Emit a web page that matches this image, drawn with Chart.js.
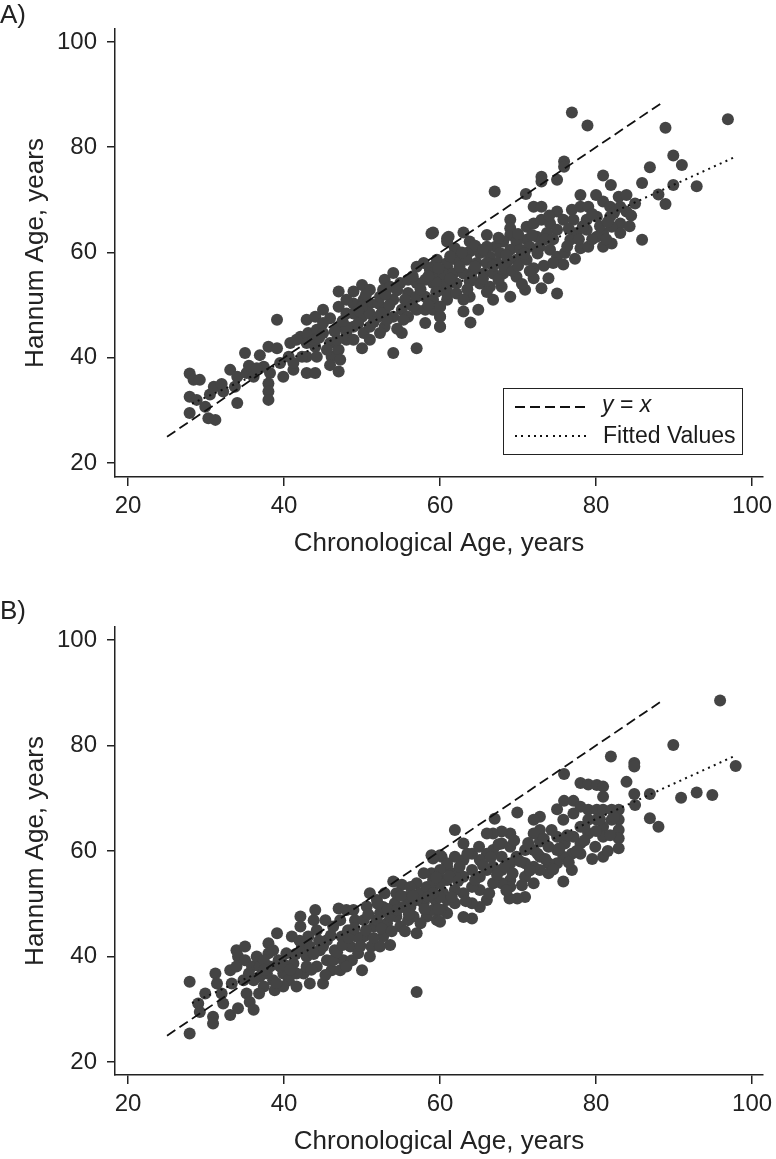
<!DOCTYPE html>
<html>
<head>
<meta charset="utf-8">
<script src="https://cdn.jsdelivr.net/npm/chart.js@4.4.1/dist/chart.umd.min.js"></script>
<style>
    html, body { margin: 0; padding: 0; background: #fff; }
    body { width: 776px; height: 1159px; position: relative; overflow: hidden;
           font-family: 'Liberation Sans', Arial, sans-serif; }
    canvas { position: absolute; left: 0; }
    #chartA { top: 0; }
    #chartB { top: 580px; }
    .legend { position: absolute; left: 503px; top: 388px; width: 240px; height: 67px;
              border: 1.5px solid #222; box-sizing: border-box; color: #1a1a1a; font-size: 23px; }
    .legend .txt { position: absolute; line-height: 23px; white-space: nowrap; }
    .legend .sample { position: absolute; left: 10.5px; width: 75px; height: 2px; }
    .dash { background: repeating-linear-gradient(to right, #111 0 10px, transparent 10px 15px); }
    .dot { background: repeating-linear-gradient(to right, #111 0 2px, transparent 2px 6.3px); }
</style>
</head>
<body>
<canvas id="chartA" width="776" height="580"></canvas>
<canvas id="chartB" width="776" height="579"></canvas>
<div class="legend">
    <div class="sample dash" style="top:16.5px"></div>
    <div class="txt" style="left:98px; top:4px"><i>y</i> = <i>x</i></div>
    <div class="sample dot" style="top:46px"></div>
    <div class="txt" style="left:99px; top:35px">Fitted Values</div>
</div>
<script>
// ---- data ----
const TICKS = [20, 40, 60, 80, 100];

// Panel A: chronological age / Hannum age
const ageA = [
    27.9, 28.4, 29.2, 27.9, 28.8, 27.9, 29.9, 30.3, 31.2, 31.0,
    32.2, 33.1, 34.0, 33.7, 34.0, 35.0, 35.2, 36.1, 36.9, 38.0,
    39.1, 37.4, 38.2, 38.0, 38.0, 38.0, 39.1, 39.5, 39.9, 40.8,
    41.2, 42.1, 42.9, 43.1, 42.9, 42.9, 42.9, 44.0, 44.2, 44.0,
    44.2, 44.0, 45.0, 45.0, 45.9, 45.9, 46.1, 45.9, 47.0, 47.0,
    47.0, 47.0, 47.0, 48.0, 48.0, 48.0, 48.9, 48.9, 48.9, 48.9,
    50.0, 50.2, 50.0, 50.2, 50.0, 51.0, 51.0, 51.0, 51.0, 51.0,
    52.1, 52.1, 52.3, 52.9, 52.9, 52.9, 54.0, 54.0, 54.0, 54.0,
    54.9, 55.1, 55.1, 55.9, 55.9, 55.9, 55.9, 57.0, 57.0, 57.0,
    57.0, 57.0, 57.9, 58.1, 58.1, 58.1, 58.1, 58.9, 59.1, 59.1,
    59.1, 60.0, 60.0, 60.0, 60.9, 60.9, 60.9,
    32.0, 35.5, 36.5, 30.5, 41.6, 42.3, 40.6, 41.2, 48.0, 48.9,
    50.0, 48.0, 46.8, 45.0, 43.8, 45.5, 47.2, 52.7, 53.6, 52.3,
    53.2, 55.3, 58.7, 60.0, 60.0, 60.9, 59.1,
    76.9, 78.9, 88.9, 96.9, 89.9, 91.0, 86.9, 85.9, 80.9, 81.9,
    89.9, 92.9, 88.0, 88.9, 85.9, 75.9, 75.9, 75.0, 73.0, 73.0,
    67.0, 71.0, 72.0, 73.0, 78.0, 80.0, 80.9, 82.9, 83.9, 85.0,
    83.9, 75.0, 76.9, 78.0, 79.0, 81.8, 83.1, 75.8, 77.1, 78.8,
    80.1, 81.8, 83.1, 83.1, 82.0, 80.9, 80.1, 78.8, 77.5, 76.7,
    78.0, 79.0, 80.9, 82.0, 69.0, 69.0, 69.0, 71.1, 72.0, 73.0,
    74.1, 75.0, 73.7, 72.4, 71.1, 69.8, 68.1, 67.1, 66.0, 66.0,
    63.8, 63.0, 61.1, 59.1, 60.9, 61.9, 63.8, 65.1, 66.4, 67.7,
    69.0, 70.3, 71.5, 72.8, 74.1, 75.0, 76.0, 75.8, 59.6, 60.9,
    62.1, 63.4, 64.7, 66.0, 67.3, 68.5, 69.8, 71.1, 72.0, 59.1,
    60.4, 61.7, 63.0, 64.3, 65.6, 66.8, 68.1, 69.8, 72.0, 73.9,
    59.6, 60.9, 62.1, 63.8, 65.1, 66.4, 67.9, 70.9, 73.0, 75.0,
    69.0, 66.8, 60.9, 62.1, 63.8, 63.0, 60.0, 60.0, 60.0, 63.0,
    64.9, 63.9,
    44.5, 46.5, 47.5, 49.5, 49.5, 50.5, 51.5, 52.5, 53.5, 53.0,
    54.5, 54.5, 55.5, 56.5, 56.5, 57.5, 58.5, 58.5, 59.5, 59.8,
    61.3, 61.3, 62.5, 62.8, 63.5, 64.0, 64.5, 64.5, 65.5, 65.5,
    66.0, 66.8, 67.5, 67.5, 68.3, 68.5, 69.3, 70.0, 70.0, 70.5,
    70.8, 71.5, 71.8, 72.5, 73.3, 73.5, 74.5, 74.5, 74.0, 76.3,
    76.5, 77.3, 77.8, 78.3, 79.5, 79.5, 80.5, 81.3, 81.5, 82.3,
    84.5, 84.3,
];
const hannumA = [
    37.0, 35.8, 35.8, 32.6, 32.0, 29.5, 30.7, 28.5, 28.2, 34.5,
    33.6, 37.7, 36.4, 34.5, 31.4, 40.9, 37.1, 36.4, 40.5, 42.1,
    41.8, 38.3, 37.1, 35.1, 33.6, 32.0, 47.2, 39.0, 36.4, 42.8,
    37.7, 44.0, 47.2, 44.7, 42.8, 40.2, 37.1, 47.8, 45.3, 42.1,
    40.2, 37.1, 49.1, 44.7, 47.5, 42.8, 40.2, 38.6, 52.6, 49.7,
    45.9, 41.5, 37.4, 48.4, 44.7, 43.4, 52.6, 50.3, 45.9, 43.4,
    53.8, 51.0, 47.8, 44.7, 41.8, 52.9, 50.3, 48.4, 45.9, 43.4,
    50.3, 47.8, 51.6, 54.8, 49.1, 45.9, 56.1, 51.0, 47.8, 40.9,
    54.2, 49.1, 44.7, 54.8, 52.3, 50.3, 47.8, 57.3, 54.2, 51.6,
    49.1, 41.8, 58.0, 54.8, 51.6, 49.1, 46.6, 63.6, 57.3, 54.2,
    51.0, 49.7, 45.9, 47.8, 62.7, 57.3, 53.5,
    35.0, 38.5, 38.0, 33.0, 43.4, 40.2, 40.2, 39.0, 45.9, 48.4,
    49.7, 51.0, 43.4, 46.6, 43.4, 41.5, 39.6, 52.9, 53.5, 44.7,
    47.2, 47.2, 56.7, 55.4, 52.9, 51.0, 49.1,
    86.6, 84.1, 83.7, 85.3, 78.4, 76.6, 76.2, 73.2, 74.6, 72.8,
    72.8, 72.6, 71.0, 69.2, 62.4, 77.3, 76.3, 73.8, 74.4, 73.5,
    71.6, 71.1, 68.7, 68.7, 70.9, 70.9, 69.7, 70.6, 70.9, 69.3,
    67.8, 67.8, 68.1, 68.7, 68.7, 68.7, 68.7, 66.2, 66.2, 66.2,
    66.8, 66.8, 65.5, 63.7, 64.9, 63.7, 63.0, 64.3, 63.7, 62.4,
    60.8, 61.1, 61.1, 61.7, 66.2, 64.6, 63.3, 64.9, 65.5, 66.2,
    65.5, 64.3, 63.7, 63.0, 62.4, 62.1, 62.1, 61.1, 63.3, 61.1,
    62.1, 63.8, 63.0, 63.8, 62.1, 60.8, 60.2, 59.9, 59.2, 59.9,
    60.5, 60.5, 61.1, 61.1, 60.5, 59.2, 59.9, 57.7, 58.6, 58.0,
    58.6, 58.6, 58.0, 58.0, 58.0, 58.0, 58.6, 58.6, 57.0, 56.0,
    56.0, 56.0, 56.0, 56.7, 56.0, 56.0, 56.0, 55.4, 55.1, 55.1,
    54.1, 54.1, 54.1, 54.5, 54.1, 53.5, 53.5, 52.9, 53.2, 52.2,
    51.6, 51.0, 52.2, 52.2, 51.6, 51.0, 49.7, 47.8, 45.9, 48.8,
    49.1, 46.7,
    43.8, 45.0, 47.0, 46.5, 49.0, 52.0, 46.8, 48.5, 50.0, 52.0,
    45.5, 52.8, 51.0, 49.8, 55.5, 53.0, 50.0, 55.5, 52.5, 57.0,
    55.0, 59.3, 57.3, 60.0, 53.0, 55.3, 57.3, 61.3, 55.0, 60.5,
    52.5, 57.5, 54.8, 62.8, 57.0, 59.5, 56.5, 57.5, 63.5, 54.0,
    59.8, 56.5, 63.3, 59.8, 57.5, 62.5, 58.0, 62.5, 67.0, 61.2,
    64.5, 58.8, 62.5, 65.0, 62.5, 67.3, 65.0, 62.5, 65.8, 67.5,
    67.0, 65.0,
];

// Panel B: chronological age / Hannum age
const ageB = [
    27.9, 27.9, 29.0, 29.2, 29.9, 30.9, 30.9, 31.2, 31.4, 32.0,
    32.2, 33.1, 33.3, 33.1, 33.9, 34.1, 33.9, 34.1, 35.0, 35.0,
    34.8, 35.2, 35.6, 36.1, 35.9, 36.5, 36.9, 37.4, 38.0, 38.0,
    38.2, 38.6, 38.8, 39.1, 39.3, 39.9, 40.3, 40.6, 41.0, 41.2,
    41.6, 42.1, 42.1, 42.3, 42.5, 42.9, 43.1, 43.3, 43.8, 44.0,
    44.2, 44.2, 44.6, 45.0, 45.3, 45.5, 45.5, 46.1, 46.3, 46.5,
    47.0, 47.2, 47.4, 47.6, 48.0, 48.2, 48.5, 48.7, 48.9, 49.1,
    50.0, 50.2, 50.2, 50.6, 51.0, 51.2, 51.5, 51.9, 52.3, 52.7,
    52.9, 53.2, 53.6, 54.0, 54.2, 54.4, 54.9, 55.1, 55.7, 56.2,
    56.6, 57.0, 57.0, 57.0, 57.4, 57.9, 58.3, 58.9, 58.9, 59.1,
    59.4, 59.6, 60.2, 60.2, 60.4, 60.4, 60.9,
    49.3, 49.5, 51.9, 52.3, 53.6, 54.4, 55.3, 55.9, 52.7, 51.0,
    58.3, 57.9, 57.0, 56.2, 45.0, 46.3, 47.2, 48.0, 43.3, 42.9,
    41.6, 36.9, 37.8, 39.5, 39.9, 37.4, 38.6, 36.1,
    95.9, 89.9, 81.9, 84.9, 84.9, 97.9, 83.9, 75.9, 78.0, 79.0,
    80.1, 80.9, 80.9, 84.9, 86.9, 85.0, 90.9, 92.9, 94.9, 86.9,
    88.0, 69.9, 67.0, 61.9, 75.9, 77.1, 75.0, 75.8, 77.1, 78.0,
    79.0, 80.1, 80.9, 82.0, 82.9, 82.9, 82.9, 82.9, 82.9, 82.0,
    80.9, 80.9, 80.9, 80.1, 79.9, 79.0, 79.0, 78.0, 78.0, 78.0,
    77.1, 76.9, 76.9, 76.0, 75.8, 75.8, 75.0, 75.0, 75.0, 73.9,
    73.9, 73.9, 72.8, 72.8, 72.8, 72.8, 72.8, 72.0, 72.0, 72.0,
    72.0, 72.0, 70.9, 70.9, 70.9, 70.9, 69.9, 68.9, 69.8, 69.0,
    69.0, 69.0, 69.0, 69.0, 67.9, 67.9, 67.9, 67.9, 67.9, 66.8,
    66.8, 66.8, 66.8, 66.0, 66.0, 66.0, 66.0, 65.1, 65.1, 65.1,
    65.1, 64.1, 64.1, 64.1, 64.1, 64.1, 63.0, 63.0, 63.0, 63.0,
    63.0, 61.9, 61.9, 61.9, 61.9, 60.9, 60.9, 60.9, 60.9, 60.0,
    60.0, 60.0, 60.0, 60.0, 60.0, 59.1, 59.1, 59.1, 59.1,
    35.5, 36.8, 37.5, 39.0, 40.0, 40.8, 41.5, 42.0, 43.5, 43.8,
    44.5, 45.3, 46.0, 46.8, 47.5, 48.3, 49.0, 49.8, 50.5, 50.8,
    51.5, 52.0, 52.5, 53.3, 53.8, 54.5, 55.0, 55.5, 56.0, 56.5,
    57.5, 58.0, 58.5, 59.5, 59.8, 61.2, 61.5, 62.3, 62.5, 63.3,
    63.5, 64.5, 65.0, 65.5, 66.3, 66.5, 67.3, 67.5, 68.3, 68.5,
    69.3, 69.5, 70.3, 70.5, 71.3, 71.5, 72.5, 73.3, 73.5, 74.3,
    74.5, 75.3, 76.3, 76.5, 77.5, 78.5, 78.5, 79.5, 80.0, 81.5,
    81.8, 82.3, 80.5,
];
const hannumB = [
    35.2, 25.4, 31.1, 29.5, 33.0, 28.6, 27.3, 36.8, 34.9, 33.0,
    31.1, 37.4, 34.9, 28.9, 41.2, 40.0, 38.1, 30.2, 41.9, 39.3,
    35.5, 33.0, 31.4, 29.9, 38.1, 40.0, 36.2, 34.3, 42.5, 40.6,
    38.1, 35.5, 33.6, 44.4, 39.3, 36.8, 40.6, 35.5, 43.8, 38.7,
    34.3, 47.6, 45.7, 41.9, 36.8, 40.0, 43.8, 34.9, 46.9, 48.8,
    45.0, 38.1, 41.2, 34.9, 46.9, 43.1, 39.3, 37.4, 45.7, 41.2,
    49.1, 46.9, 43.8, 39.3, 48.8, 45.0, 41.9, 39.3, 48.8, 46.9,
    37.4, 46.9, 43.8, 49.5, 40.0, 41.9, 45.7, 50.7, 48.2, 43.8,
    52.0, 46.3, 42.2, 54.2, 50.1, 47.6, 45.7, 53.6, 51.3, 49.4,
    47.6, 44.4, 53.9, 33.3, 52.0, 50.1, 47.6, 59.2, 55.8, 53.2,
    50.7, 46.9, 58.9, 54.5, 52.0, 48.8, 57.0,
    43.8, 40.6, 46.9, 41.9, 47.6, 52.0, 49.4, 46.9, 49.4, 52.0,
    53.2, 55.8, 50.7, 53.2, 41.9, 39.3, 37.4, 38.1, 41.9, 38.1,
    36.8, 38.1, 36.8, 38.1, 34.3, 39.3, 41.2, 35.5,
    88.5, 80.1, 77.9, 76.7, 76.0, 76.1, 73.1, 74.6, 72.9, 72.6,
    72.5, 72.2, 70.3, 70.8, 70.8, 68.7, 70.1, 71.1, 70.6, 66.2,
    64.6, 67.3, 66.1, 64.0, 69.5, 69.5, 67.9, 65.9, 67.1, 68.4,
    67.8, 67.8, 67.8, 67.8, 67.8, 65.9, 64.0, 62.4, 60.5, 65.9,
    64.6, 62.7, 58.9, 65.9, 60.8, 65.9, 63.3, 64.6, 61.4, 59.5,
    62.7, 59.5, 56.4, 61.4, 58.9, 54.2, 62.7, 60.2, 57.7, 60.8,
    57.7, 55.8, 66.5, 64.0, 61.8, 58.9, 56.4, 65.9, 63.3, 60.2,
    57.0, 53.9, 60.2, 57.7, 55.1, 51.3, 51.0, 51.0, 58.9, 63.3,
    60.8, 57.7, 54.5, 53.2, 63.7, 61.4, 58.9, 56.4, 53.9, 63.3,
    60.2, 57.0, 53.9, 63.3, 59.5, 56.4, 50.7, 58.3, 55.1, 52.6,
    49.4, 59.5, 56.4, 53.2, 50.1, 47.2, 61.4, 58.3, 55.1, 52.0,
    47.5, 58.9, 55.8, 52.6, 50.1, 57.7, 54.5, 50.7, 48.2, 59.2,
    56.4, 53.9, 51.3, 48.8, 46.6, 58.6, 54.5, 52.0, 48.8,
    36.8, 33.0, 37.5, 35.0, 38.5, 37.5, 40.5, 43.0, 37.5, 40.5,
    43.0, 36.5, 44.0, 40.8, 42.2, 43.5, 45.3, 42.0, 45.0, 48.0,
    43.5, 50.0, 45.3, 49.0, 44.8, 48.8, 51.5, 44.8, 48.0, 51.5,
    46.3, 49.0, 51.3, 55.0, 49.0, 55.2, 51.3, 54.3, 57.0, 50.5,
    59.5, 54.5, 60.8, 57.3, 52.0, 58.8, 55.5, 61.3, 57.0, 52.5,
    55.8, 62.0, 58.0, 53.5, 61.5, 56.3, 59.5, 62.3, 58.5, 64.0,
    56.5, 60.5, 63.0, 57.8, 60.0, 62.0, 64.5, 58.5, 63.8, 60.0,
    63.0, 66.5, 66.0,
];

// reference lines: y = x and the fitted regression line
const IDENTITY_X = [25, 88.6];
const FIT_A_X = [28.2, 97.9];
const FIT_A_Y = [31.3, 78.2];
const FIT_B_X = [28.2, 97.9];
const FIT_B_Y = [31.2, 78.1];

// ---- drawing ----
const INK = '#222';
const DOT = '#444';
Chart.defaults.font.family = "'Liberation Sans', Arial, sans-serif";
Chart.defaults.color = INK;

function pairs(xs, ys) {
    return xs.map((x, i) => ({ x, y: ys[i] }));
}

function makePanel(canvasId, p) {
    const ctx = document.getElementById(canvasId);
    return new Chart(ctx, {
        type: 'scatter',
        data: {
            datasets: [
                {
                    type: 'line', label: 'y = x',
                    data: pairs(IDENTITY_X, IDENTITY_X),
                    borderColor: '#111', borderWidth: 1.8, borderDash: [10, 5],
                    pointRadius: 0, fill: false, tension: 0, order: 0,
                },
                {
                    type: 'line', label: 'Fitted Values',
                    data: pairs(p.fitX, p.fitY),
                    borderColor: '#111', borderWidth: 2, borderDash: [2, 4.3],
                    pointRadius: 0, fill: false, tension: 0, order: 0,
                },
                {
                    label: 'Hannum Age',
                    data: pairs(p.age, p.hannum),
                    backgroundColor: DOT, borderWidth: 0,
                    pointRadius: 6, pointHoverRadius: 6, order: 1,
                },
            ],
        },
        options: {
            responsive: false,
            animation: false,
            events: [],
            layout: { padding: { left: 0, right: 13, top: 0, bottom: 0 } },
            plugins: {
                legend: { display: false },
                tooltip: { enabled: false },
                title: {
                    display: true, text: p.label, align: 'start', color: INK,
                    font: { size: 26, weight: 'normal', lineHeight: 1 },
                    padding: p.titlePad,
                },
            },
            scales: {
                x: {
                    type: 'linear', min: 18.33, max: 101.4,
                    afterBuildTicks: s => { s.ticks = TICKS.map(v => ({ value: v })); },
                    afterFit: s => { s.height = p.xHeight; s.paddingLeft = 0; s.paddingRight = 0; },
                    grid: { display: true, drawOnChartArea: false, drawTicks: true, tickLength: 9, color: INK, lineWidth: 1.5 },
                    border: { display: true, color: INK, width: 1.5 },
                    ticks: { padding: 6, color: INK, font: { size: 24 }, maxRotation: 0 },
                    title: {
                        display: true, text: 'Chronological Age, years', color: INK,
                        font: { size: 26 }, padding: { top: 0, bottom: p.xTitlePad },
                    },
                },
                y: {
                    type: 'linear', min: p.yMin, max: 102.45,
                    afterBuildTicks: s => { s.ticks = TICKS.map(v => ({ value: v })); },
                    afterFit: s => { s.width = 115; s.paddingTop = 0; s.paddingBottom = 0; },
                    grid: { display: true, drawOnChartArea: false, drawTicks: true, tickLength: 8, color: INK, lineWidth: 1.5 },
                    border: { display: true, color: INK, width: 1.5 },
                    ticks: { padding: 10, color: INK, font: { size: 24 } },
                    title: {
                        display: true, text: 'Hannum Age, years', color: INK,
                        font: { size: 26 }, padding: { top: 20.4, bottom: 0 },
                    },
                },
            },
        },
    });
}

makePanel('chartA', {
    label: 'A)', age: ageA, hannum: hannumA, fitX: FIT_A_X, fitY: FIT_A_Y,
    titlePad: { top: 3, bottom: 0 }, xHeight: 103, xTitlePad: 20.4, yMin: 17.35,
});
makePanel('chartB', {
    label: 'B)', age: ageB, hannum: hannumB, fitX: FIT_B_X, fitY: FIT_B_Y,
    titlePad: { top: 18.7, bottom: 2.3 }, xHeight: 84, xTitlePad: 1.4, yMin: 17.55,
});
</script>
</body>
</html>
